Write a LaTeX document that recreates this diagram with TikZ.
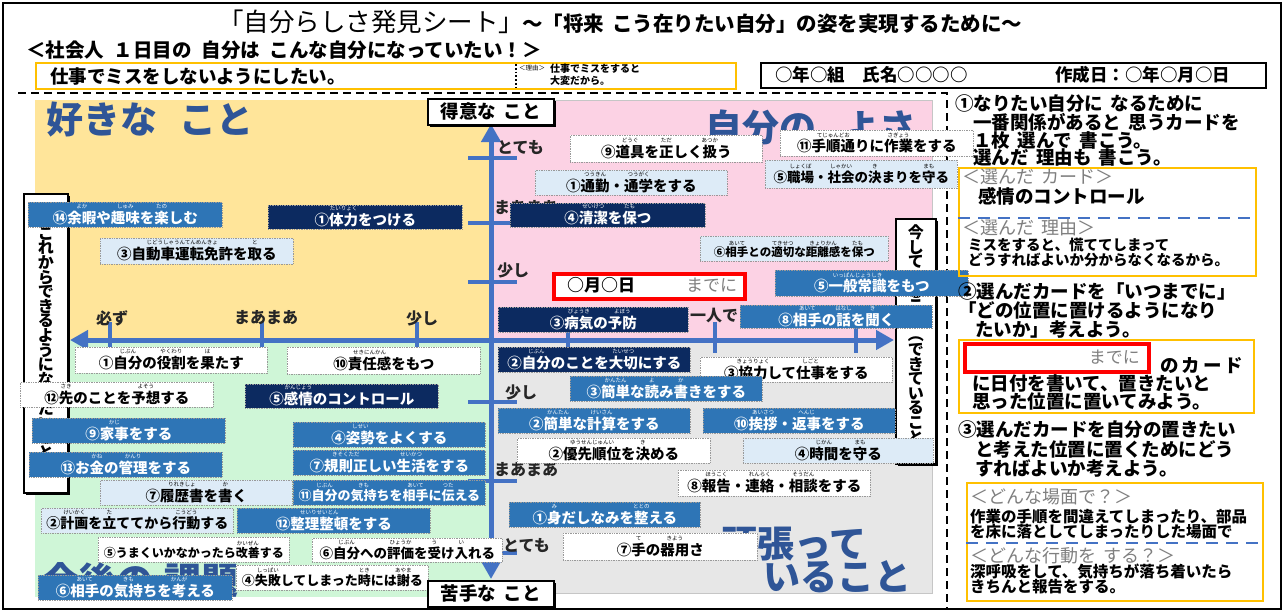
\documentclass[tikz,border=0pt]{standalone}
\usepackage{fontspec}
\setmainfont{Noto Sans CJK JP}
\usetikzlibrary{arrows.meta}
\definecolor{axisblue}{HTML}{4472C4}
\definecolor{headblue}{HTML}{2F5597}
\definecolor{cmblue}{HTML}{2E75B6}
\definecolor{cnavy}{HTML}{0C2A60}
\definecolor{clight}{HTML}{DDEBF7}
\definecolor{bgyellow}{HTML}{FFE59A}
\definecolor{bgpink}{HTML}{FCD2E4}
\definecolor{bggreen}{HTML}{CFF6D7}
\definecolor{bggray}{HTML}{E7E7E7}
\definecolor{orangeb}{HTML}{FFC000}
\definecolor{graytxt}{HTML}{7F7F7F}
\newcommand\rb[2]{\setbox0\hbox{#1}\leavevmode\rlap{\hbox to\wd0{\hss\raisebox{1.02em}{\fontsize{5.5}{6}\selectfont\mdseries#2}\hss}}\box0}
\newcommand\cst{\rule[-2.5pt]{0pt}{21pt}}
\newcommand\crd[7]{\node[card,#1,minimum width={#4-#2},minimum height={#5-#3},anchor=north west] (#6) at (#2,#3) {\cst#7};}
\tikzset{
  card/.style={draw=gray!80,densely dotted,line width=0.7pt,inner sep=0pt,font=\fontsize{14.5}{15}\selectfont\bfseries},
  cardW/.style={fill=white,text=black},
  cardL/.style={fill=clight,text=black},
  cardM/.style={fill=cmblue,text=white},
  cardN/.style={fill=cnavy,text=white},
  cfsize/.style={font=\fontsize{#1}{#1}\selectfont\bfseries},
  axisline/.style={draw=axisblue,line width=5pt},
  axtick/.style={draw=axisblue,line width=4.5pt},
  ticklab/.style={font=\fontsize{16}{16}\selectfont\bfseries,text=black!85,inner sep=0pt,anchor=west},
  headtxt/.style={font=\fontsize{37}{37}\selectfont\bfseries,text=headblue,inner sep=0pt,anchor=west},
  rtxt/.style={font=\fontsize{18.5}{18.5}\selectfont\bfseries,inner sep=0pt,anchor=base west},
  gtxt/.style={font=\fontsize{18}{18}\selectfont,text=graytxt,inner sep=0pt,anchor=base west},
  smtxt/.style={font=\fontsize{14.5}{14.5}\selectfont\bfseries,inner sep=0pt,anchor=base west},
  bxtxt/.style={font=\fontsize{15.5}{15.5}\selectfont\bfseries,inner sep=0pt,anchor=base west},
  obox/.style={draw=orangeb,line width=2.2pt},
  bdash/.style={draw=axisblue,line width=2pt,dash pattern=on 12pt off 8pt},
  vertbox/.style={draw=black,line width=1.6pt,fill=white,inner sep=0pt,align=center,font=\fontsize{16}{14.6}\selectfont\bfseries},
  shadowbox/.style={fill=black,inner sep=0pt},
}
\begin{document}
\begin{tikzpicture}[x=1pt,y=-1pt]
\useasboundingbox (0,0) rectangle (1284,611);
\fill[white] (0,0) rectangle (1284,611);
\draw[line width=2.5pt] (3,3) rectangle (1281,609);
% ---------- header ----------
\node[inner sep=0pt,anchor=west,font=\fontsize{25.5}{25.5}\selectfont] (title) at (218,22) {「自分らしさ発見シート」};
\node[inner sep=0pt,anchor=west,font=\fontsize{20.5}{20.5}\selectfont\bfseries] (subtitle) at (522,24) {～「将来\hspace{0.4em}こう在りたい自分」の姿を実現するために～};
\node[inner sep=0pt,anchor=west,font=\fontsize{19.5}{19.5}\selectfont\bfseries] (goalhead) at (26,50) {＜社会人\hspace{0.5em}１日目の\hspace{0.5em}自分は\hspace{0.5em}こんな自分になっていたい！＞};
\node[obox,fill=white,minimum width=700,minimum height=26,anchor=north west,inner sep=0pt] (goalbox) at (35,62) {};
\node[inner sep=0pt,anchor=west,font=\fontsize{18.5}{18.5}\selectfont\bfseries] (goal) at (50,76) {仕事でミスをしないようにしたい。};
\coordinate (sepT) at (516,64);
\coordinate (sepB) at (516,87);
\draw[line width=1.8pt,dotted] (sepT) -- (sepB);
\node[inner sep=0pt,anchor=west,font=\fontsize{6.5}{6.5}\selectfont] (riyu) at (519,68) {＜理由＞};
\node[inner sep=0pt,anchor=west,font=\fontsize{10}{10}\selectfont\bfseries] (riyu1) at (550,69) {仕事でミスをすると};
\node[inner sep=0pt,anchor=west,font=\fontsize{10}{10}\selectfont\bfseries] (riyu2) at (550,81) {大変だから。};
\node[draw=black,line width=1.6pt,minimum width=505,minimum height=25,anchor=north west,inner sep=0pt] (namebox) at (760,62) {};
\node[inner sep=0pt,anchor=west,font=\fontsize{17.5}{17.5}\selectfont\bfseries] (name) at (775,75) {○年○組　氏名○○○○};
\node[inner sep=0pt,anchor=west,font=\fontsize{17.5}{17.5}\selectfont\bfseries] (date) at (1055,75) {作成日：○年○月○日};
% dashed separator
\coordinate (dl) at (18,93);
\coordinate (dc) at (947,93);
\coordinate (db) at (947,608);
\draw[line width=2pt,dash pattern=on 8pt off 5pt] (dl) -- (dc) -- (db);
% ---------- regions ----------
\fill[bgyellow] (35,100) rectangle (491,340);
\fill[bgpink] (491,100) rectangle (932,340);
\fill[bggreen] (35,340) rectangle (491,597);
\fill[bggray] (491,340) rectangle (932,593);
\draw[gray!45,line width=0.6pt] (491,100) -- (932,100) -- (932,593) -- (491,593);
% ---------- headings ----------
\node[headtxt] (h1) at (46,120) {好きな\hspace{0.6em}こと};
\node[headtxt] (h2) at (705,128) {自分の\hspace{0.7em}よさ};
\begin{scope}
\clip (35,340) rectangle (491,597);
\node[headtxt] (h3) at (42,580) {今後の\hspace{0.3em}課題};
\end{scope}
\node[headtxt] (h4) at (720,544) {頑張って};
\node[headtxt] (h5) at (763,577) {いること};
% ---------- axes ----------
\foreach \yy in {158,223,282,402,481,553} {\draw[axtick] (468,\yy) -- (517,\yy);}
\foreach \xx in {110,262,417,568,715,856} {\draw[axtick] (\xx,322) -- (\xx,353);}
\coordinate (vtop) at (491,124);
\coordinate (vbot) at (491,579);
\coordinate (hl) at (70,340);
\coordinate (hr) at (894,340);
\draw[axisline,{Triangle[length=18pt,width=19pt]}-{Triangle[length=18pt,width=19pt]}] (vbot) -- (vtop);
\draw[axisline,{Triangle[length=18pt,width=19pt]}-{Triangle[length=18pt,width=19pt]}] (hl) -- (hr);
\node[ticklab] (vt1) at (497,148) {とても};
\node[ticklab] (vt2) at (494,208) {まあまあ};
\node[ticklab] (vt3) at (497,270) {少し};
\node[ticklab] (vt4) at (505,392) {少し};
\node[ticklab] (vt5) at (494,470) {まあまあ};
\node[ticklab] (vt6) at (503,545) {とても};
\node[ticklab,anchor=center] (ht1) at (112,318) {必ず};
\node[ticklab,anchor=center] (ht2) at (266,318) {まあまあ};
\node[ticklab,anchor=center] (ht3) at (422,318) {少し};
\node[ticklab,anchor=center] (ht4) at (714,316) {一人で};
% ---------- vertical boxes ----------
\node[shadowbox,minimum width=44,minimum height=299,anchor=north west] (lbs) at (26,196) {};
\node[vertbox,minimum width=44,minimum height=299,anchor=north west] (lbox) at (23,193) {こ\\れ\\か\\ら\\で\\き\\る\\よ\\う\\に\\な\\り\\た\\い\\こ\\と};
\node[shadowbox,minimum width=40,minimum height=245,anchor=north west] (rbs) at (898,221) {};
\node[vertbox,minimum width=40,minimum height=245,anchor=north west] (rbox) at (895,218) {今\\し\\て\\い\\る\\こ\\と\\︵\\で\\き\\て\\い\\る\\こ\\と\\︶};
% ---------- cards: yellow ----------
\crd{cardM}{28}{202}{222}{227}{c14a}{⑭\rb{余暇}{よか}や\rb{趣味}{しゅみ}を\rb{楽}{たの}しむ}
\crd{cardN}{268}{205}{462}{229}{c1a}{①\rb{体力}{たいりょく}をつける}
\crd{cardL}{100}{238}{293}{264}{c3a}{③\rb{自動車運転免許}{じどうしゃうんてんめんきょ}を\rb{取}{と}る}
% ---------- cards: pink ----------
\crd{cardW}{570}{135}{762}{162}{c9a}{⑨\rb{道具}{どうぐ}を\rb{正}{ただ}しく\rb{扱}{あつか}う}
\crd{cardW}{780}{130}{973}{156}{c11a}{⑪\rb{手順通}{てじゅんどお}りに\rb{作業}{さぎょう}をする}
\crd{cardL,cfsize=13.5}{765}{160}{957}{188}{c5a}{⑤\rb{職場}{しょくば}・\rb{社会}{しゃかい}の\rb{決}{き}まりを\rb{守}{まも}る}
\crd{cardL}{535}{170}{727}{195}{c1b}{①\rb{通勤}{つうきん}・\rb{通学}{つうがく}をする}
\crd{cardN}{510}{203}{705}{227}{c4a}{④\rb{清潔}{せいけつ}を\rb{保}{たも}つ}
\crd{cardL,cfsize=11.5}{700}{236}{888}{261}{c6a}{⑥\rb{相手}{あいて}との\rb{適切}{てきせつ}な\rb{距離感}{きょりかん}を\rb{保}{たも}つ}
\node[draw=red,line width=3.5pt,fill=white,minimum width=191,minimum height=25,anchor=north west,inner sep=0pt] (date1) at (552,272) {};
\node[inner sep=0pt,anchor=west,font=\fontsize{17}{17}\selectfont\bfseries] (date1t) at (567,285) {○月○日\hspace{3em}{\mdseries\color{graytxt}までに}};
\crd{cardM}{775}{270}{968}{296}{c5b}{⑤\rb{一般常識}{いっぱんじょうしき}をもつ}
\crd{cardN}{498}{307}{688}{332}{c3b}{③\rb{病気}{びょうき}の\rb{予防}{よぼう}}
\crd{cardM}{740}{305}{932}{328}{c8a}{⑧\rb{相手}{あいて}の\rb{話}{はなし}を\rb{聞}{き}く}
% ---------- cards: gray ----------
\crd{cardN}{498}{347}{690}{372}{c2a}{②\rb{自分}{じぶん}のことを\rb{大切}{たいせつ}にする}
\crd{cardW}{700}{357}{892}{382}{c3c}{③\rb{協力}{きょうりょく}して\rb{仕事}{しごと}をする}
\crd{cardM}{570}{376}{762}{401}{c3d}{③\rb{簡単}{かんたん}な\rb{読}{よ}み\rb{書}{か}きをする}
\crd{cardM}{498}{408}{690}{433}{c2b}{②\rb{簡単}{かんたん}な\rb{計算}{けいさん}をする}
\crd{cardM}{703}{408}{895}{433}{c10a}{⑩\rb{挨拶}{あいさつ}・\rb{返事}{へんじ}をする}
\crd{cardW}{517}{438}{710}{463}{c2c}{②\rb{優先順位}{ゆうせんじゅんい}を\rb{決}{き}める}
\crd{cardL}{743}{438}{933}{463}{c4b}{④\rb{時間}{じかん}を\rb{守}{まも}る}
\crd{cardW}{678}{470}{870}{496}{c8b}{⑧\rb{報告}{ほうこく}・\rb{連絡}{れんらく}・\rb{相談}{そうだん}をする}
\crd{cardM}{509}{502}{700}{527}{c1c}{①\rb{身}{み}だしなみを\rb{整}{ととの}える}
\crd{cardW}{563}{533}{757}{560}{c7a}{⑦\rb{手}{て}の\rb{器用}{きよう}さ}
% ---------- cards: green ----------
\crd{cardW}{75}{347}{267}{373}{c1d}{①\rb{自分}{じぶん}の\rb{役割}{やくわり}を\rb{果}{は}たす}
\crd{cardW}{287}{347}{480}{374}{c10b}{⑩\rb{責任感}{せきにんかん}をもつ}
\crd{cardW}{20}{382}{213}{407}{c12a}{⑫\rb{先}{さき}のことを\rb{予想}{よそう}する}
\crd{cardN}{245}{384}{438}{408}{c5c}{⑤\rb{感情}{かんじょう}のコントロール}
\crd{cardM}{32}{418}{225}{443}{c9b}{⑨\rb{家事}{かじ}をする}
\crd{cardM}{293}{422}{485}{447}{c4c}{④\rb{姿勢}{しせい}をよくする}
\crd{cardM}{29}{452}{222}{477}{c13a}{⑬お\rb{金}{かね}の\rb{管理}{かんり}をする}
\crd{cardM}{293}{450}{485}{475}{c7b}{⑦\rb{規則正}{きそくただ}しい\rb{生活}{せいかつ}をする}
\crd{cardL}{100}{480}{292}{505}{c7c}{⑦\rb{履歴書}{りれきしょ}を\rb{書}{か}く}
\crd{cardM,cfsize=13}{293}{480}{485}{505}{c11b}{⑪\rb{自分}{じぶん}の\rb{気持}{きも}ちを\rb{相手}{あいて}に\rb{伝}{つた}える}
\crd{cardL,cfsize=14}{41}{508}{233}{533}{c2d}{②\rb{計画}{けいかく}を\rb{立}{た}ててから\rb{行動}{こうどう}する}
\crd{cardM}{237}{508}{430}{533}{c12b}{⑫\rb{整理整頓}{せいりせいとん}をする}
\crd{cardW,cfsize=12}{98}{537}{289}{562}{c5d}{⑤うまくいかなかったら\rb{改善}{かいぜん}する}
\crd{cardW,cfsize=13.5}{312}{538}{502}{562}{c6b}{⑥\rb{自分}{じぶん}への\rb{評価}{ひょうか}を\rb{受}{う}け\rb{入}{い}れる}
\crd{cardM}{38}{575}{232}{600}{c6c}{⑥\rb{相手}{あいて}の\rb{気持}{きも}ちを\rb{考}{かんが}える}
\crd{cardW,cfsize=13}{236}{565}{428}{590}{c4d}{④\rb{失敗}{しっぱい}してしまった\rb{時}{とき}には\rb{謝}{あやま}る}
% ---------- axis label boxes ----------
\node[shadowbox,minimum width=126,minimum height=26,anchor=north west] (tks) at (430,101) {};
\node[draw=black,line width=1.6pt,fill=white,minimum width=126,minimum height=26,anchor=north west,inner sep=0pt,font=\fontsize{18.5}{18.5}\selectfont\bfseries] (tokui) at (427,98) {得意な\hspace{0.4em}こと};
\node[shadowbox,minimum width=126,minimum height=26,anchor=north west] (nks) at (430,583) {};
\node[draw=black,line width=1.6pt,fill=white,minimum width=126,minimum height=26,anchor=north west,inner sep=0pt,font=\fontsize{18.5}{18.5}\selectfont\bfseries] (nigate) at (427,580) {苦手な\hspace{0.4em}こと};
% ---------- right column ----------
\node[rtxt] (r1) at (955,110) {①なりたい自分に\hspace{0.4em}なるために};
\node[rtxt] (r2) at (973,129) {一番関係があると\hspace{0.4em}思うカードを};
\node[rtxt] (r3) at (973,147) {１枚\hspace{0.4em}選んで\hspace{0.4em}書こう。};
\node[rtxt] (r4) at (973,164) {選んだ\hspace{0.4em}理由も\hspace{0.4em}書こう。};
\node[obox,minimum width=297,minimum height=108,anchor=north west,inner sep=0pt] (box1) at (958,167) {};
\node[gtxt] (b1a) at (962,183) {＜選んだ\hspace{0.4em}カード＞};
\node[rtxt] (b1b) at (978,203) {感情のコントロール};
\coordinate (d1l) at (958,218);
\coordinate (d1r) at (1255,218);
\draw[bdash] (d1l) -- (d1r);
\node[gtxt] (b1c) at (962,234) {＜選んだ\hspace{0.4em}理由＞};
\node[smtxt] (b1d) at (968,250) {ミスをすると、慌ててしまって};
\node[smtxt] (b1e) at (968,265) {どうすればよいか分からなくなるから。};
\node[rtxt] (r5) at (958,298) {②選んだカードを「いつまでに」};
\node[rtxt] (r6) at (958,317) {「どの位置に置けるようになり};
\node[rtxt] (r7) at (975,336) {たいか」考えよう。};
\node[obox,minimum width=295,minimum height=73,anchor=north west,inner sep=0pt] (box2) at (958,339) {};
\node[draw=red,line width=3.5pt,fill=white,minimum width=184,minimum height=28,anchor=north west,inner sep=0pt] (date2) at (963,342) {};
\node[inner sep=0pt,anchor=east,font=\fontsize{17}{17}\selectfont,text=graytxt] (date2t) at (1140,357) {までに};
\node[rtxt] (b2a) at (1160,372) {の\,カ\,ー\,ド};
\node[rtxt] (b2b) at (972,390) {に日付を書いて、置きたいと};
\node[rtxt] (b2c) at (972,408) {思った位置に置いてみよう。};
\node[rtxt] (r8) at (958,436) {③選んだカードを自分の置きたい};
\node[rtxt] (r9) at (975,456) {と考えた位置に置くためにどう};
\node[rtxt] (r10) at (975,475) {すればよいか考えよう。};
\node[obox,minimum width=296,minimum height=118,anchor=north west,inner sep=0pt] (box3) at (966,482) {};
\node[gtxt] (b3a) at (970,503) {＜どんな場面で？＞};
\node[bxtxt] (b3b) at (970,522) {作業の手順を間違えてしまったり、部品};
\node[bxtxt] (b3c) at (970,537) {を床に落としてしまったりした場面で};
\coordinate (d2l) at (966,543);
\coordinate (d2r) at (1262,543);
\draw[bdash] (d2l) -- (d2r);
\node[gtxt] (b3d) at (970,562) {＜どんな行動を\hspace{0.4em}する？＞};
\node[bxtxt] (b3e) at (970,577) {深呼吸をして、気持ちが落ち着いたら};
\node[bxtxt] (b3f) at (970,592) {きちんと報告をする。};
\end{tikzpicture}
\end{document}
